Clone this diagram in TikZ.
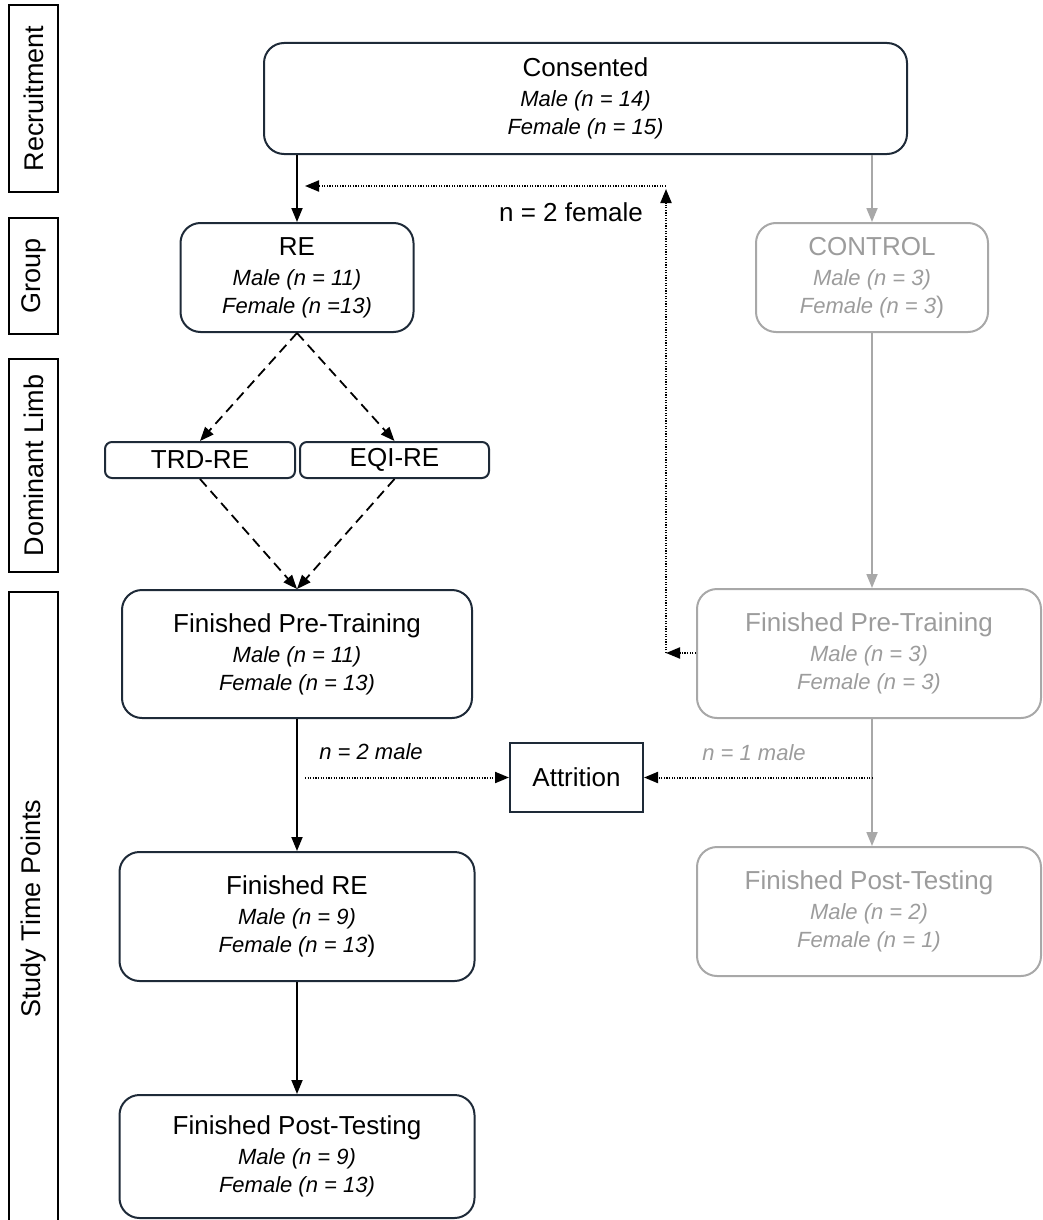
\documentclass[tikz,border=0pt]{standalone}
\usepackage{fontspec}
\setmainfont{Liberation Sans}
\usetikzlibrary{arrows.meta,calc}
\definecolor{navy}{HTML}{1E2A38}
\definecolor{ctl}{HTML}{A8A8A8}
\definecolor{ctltext}{HTML}{9C9C9C}
\newcommand\cnttxt[1]{{\fontsize{11}{14}\selectfont\itshape #1}}
\begin{document}
\begin{tikzpicture}[x=0.5pt,y=-0.5pt,
  mainbox/.style={draw=navy, line width=1pt, rounded corners=10pt, align=center, inner sep=0pt, font=\fontsize{13}{14}\selectfont},
  ctlbox/.style={mainbox, draw=ctl, text=ctltext},
  smallbox/.style={draw=navy, line width=1pt, rounded corners=3.5pt, inner sep=0pt, minimum height=18pt, font=\fontsize{13}{14}\selectfont},
  attbox/.style={draw=navy, line width=1pt, inner sep=0pt, minimum width=66.5pt, minimum height=34.5pt, font=\fontsize{13}{14}\selectfont},
  sidebox/.style={draw=black, line width=0.6pt, rotate=90, inner sep=0pt, minimum height=24.5pt, font=\fontsize{13.5}{15}\selectfont},
  arr/.style={-{Triangle[length=7pt,width=5.5pt]}, line width=0.9pt, draw=black},
  garr/.style={-{Triangle[length=7pt,width=5.5pt]}, line width=0.9pt, draw=ctl},
  dasharr/.style={arr, dash pattern=on 5pt off 3pt},
  dotarr/.style={arr, line width=1pt, dash pattern=on 0.6pt off 0.7pt},
  lbl/.style={inner sep=0pt, font=\fontsize{13}{14}\selectfont},
  cnt/.style={inner sep=0pt, font=\fontsize{11}{14}\selectfont\itshape}
]
\useasboundingbox (0,0) rectangle (1043,1220);
\clip (0,0) rectangle (1043,1220);

% side labels
\node[sidebox, minimum width=93.5pt] (sRec) at (33.5,98.5) {Recruitment};
\node[sidebox, minimum width=58pt] (sGrp) at (33.5,276) {Group};
\node[sidebox, minimum width=106.5pt] (sDom) at (33.5,465.5) {Dominant Limb};
\node[sidebox, minimum width=316.5pt] (sStp) at (33.5,908.5) {Study Time Points};

% main column
\node[mainbox, minimum width=321.5pt, minimum height=55.5pt] (cons) at (585.5,98.5)
  {Consented\\[1pt]\cnttxt{Male (n = 14)}\\\cnttxt{Female (n = 15)}};
\node[mainbox, minimum width=116.5pt, minimum height=54.5pt] (re) at (297,277.5)
  {RE\\[1pt]\cnttxt{Male (n = 11)}\\\cnttxt{Female (n =13)}};
\node[smallbox, minimum width=95pt] (trd) at (200,460) {TRD-RE};
\node[smallbox, minimum width=94.5pt] (eqi) at (394.5,460) {EQI-RE};
\node[mainbox, minimum width=175pt, minimum height=64pt] (pre) at (297,654)
  {Finished Pre-Training\\[1pt]\cnttxt{Male (n = 11)}\\\cnttxt{Female (n = 13)}};
\node[mainbox, minimum width=177.5pt, minimum height=64.5pt] (fre) at (297,916.5)
  {Finished RE\\[1pt]\cnttxt{Male (n = 9)}\\\cnttxt{Female (n = 13}{\fontsize{12}{14}\selectfont)}};
\node[mainbox, minimum width=177.5pt, minimum height=61.5pt] (fpost) at (297,1156.5)
  {Finished Post-Testing\\[1pt]\cnttxt{Male (n = 9)}\\\cnttxt{Female (n = 13)}};

% control column
\node[ctlbox, minimum width=116pt, minimum height=54.5pt] (ctrl) at (872,277.5)
  {CONTROL\\[1pt]\cnttxt{Male (n = 3)}\\\cnttxt{Female (n = 3}{\fontsize{12}{14}\selectfont)}};
\node[ctlbox, minimum width=172pt, minimum height=64.5pt] (cpre) at (869,653.5)
  {Finished Pre-Training\\[1pt]\cnttxt{Male (n = 3)}\\\cnttxt{Female (n = 3)}};
\node[ctlbox, minimum width=172pt, minimum height=64.5pt] (cpost) at (869,911.5)
  {Finished Post-Testing\\[1pt]\cnttxt{Male (n = 2)}\\\cnttxt{Female (n = 1)}};

% attrition
\node[attbox] (att) at (576.5,777.5) {Attrition};

% connectors
\draw[arr] (cons.south -| re.north) -- (re.north);
\draw[garr] (cons.south -| ctrl.north) -- (ctrl.north);
\draw[dasharr] (re.south) -- (trd.north);
\draw[dasharr] (re.south) -- (eqi.north);
\draw[dasharr] (trd.south) -- (pre.north);
\draw[dasharr] (eqi.south) -- (pre.north);
\draw[garr] (ctrl.south) -- (ctrl.south |- cpre.north);
\draw[garr] (cpre.south -| ctrl.south) -- (cpost.north -| ctrl.south);
\draw[arr] (pre.south) -- (fre.north);
\draw[arr] (fre.south) -- (fpost.north);

% attrition dotted arrows
\coordinate (dL) at (305,777.5);
\coordinate (dR) at (873,777.5);
\draw[dotarr] (dL) -- (att.west);
\draw[dotarr] (dR) -- (att.east);
\node[cnt] (lm2) at (371,752) {n = 2 male};
\node[cnt, text=ctltext] (lm1) at (754,753) {n = 1 male};

% transfer dotted arrows
\coordinate (vb) at (666,653);
\coordinate (vt) at (666,189);
\coordinate (ht) at (666,186);
\coordinate (hl) at (305,186);
\draw[dotarr] (cpre.west |- vb) -- (vb);
\draw[dotarr] (vb) -- (vt);
\draw[dotarr] (ht) -- (hl);
\node[lbl] (lf) at (571,212) {n = 2 female};
\end{tikzpicture}
\end{document}
